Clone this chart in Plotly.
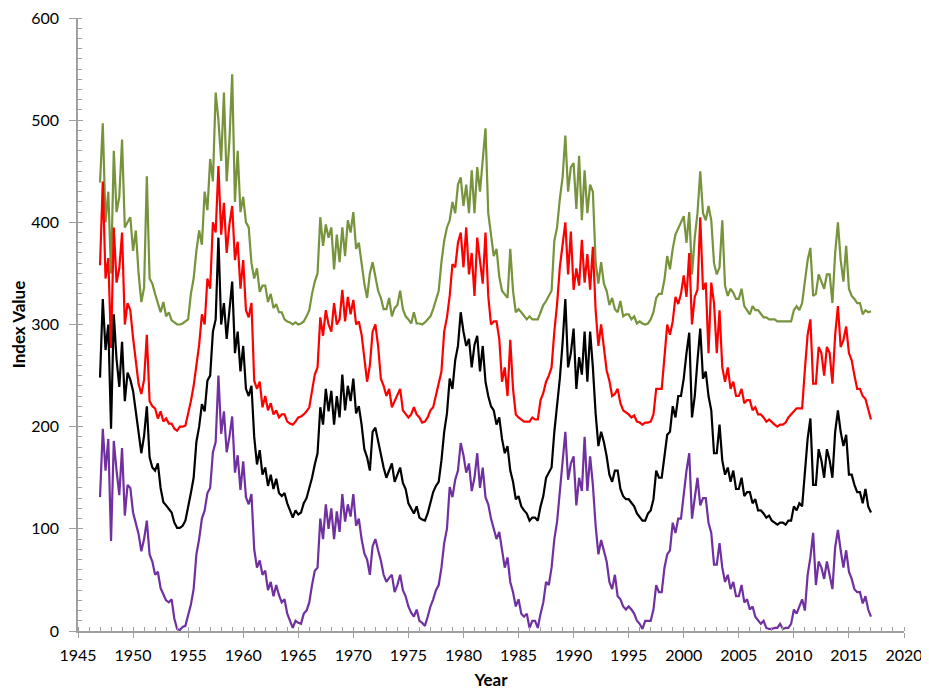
import numpy as np
import plotly.graph_objects as go

# quarterly samples, 1947.00 .. 2017.00
start_year = 1947.0
step = 0.25

purple = [
    131, 198, 157, 188,  88, 186, 157, 133, 179, 113, 143, 140, 116, 106, 95, 78,
    90, 108, 75, 68,  55, 58, 42, 36,  30, 28, 31, 12,  2, 1, 4, 5,
    15, 26, 41, 75,  90, 110, 118, 135,  140, 175, 185, 250,  193, 215, 175, 190,
    210, 155, 172, 138,  166, 131, 124, 134,  80, 62, 69, 55,  59, 40, 48, 34,
    45, 35, 28, 31,  17, 10, 3, 10,  8, 7, 17, 20,  28, 45, 59, 62,
    110, 90, 124, 100,  120, 90, 117, 97,  134, 107, 124, 112,  134, 103, 110, 90,
    76, 70, 55, 83,  90, 79, 69, 55,  48, 52, 55, 38,  45, 55, 40, 34,
    24, 18, 14, 21,  10, 8, 5, 14,  24, 31, 40, 45,  62, 86, 100, 141,
    131, 148, 157, 184,  172, 155, 164, 137,  150, 174, 140, 160,  131, 124, 110, 100,
    90, 97, 79, 62,  72, 48, 38, 24,  31, 17, 14, 17,  3, 10, 10, 3,
    17, 28, 48, 45,  62, 90, 107, 138,  169, 195, 148, 164,  171, 123, 150, 137,
    190, 137, 171, 143,  103, 75, 89, 79,  68, 48, 41, 55,  34, 31, 24, 21,
    24, 21, 17, 10,  7, 2, 10, 10,  10, 21, 45, 38,  38, 62, 75, 79,
    106, 96, 110, 110,  137, 157, 174, 110,  130, 150, 123, 130,  130, 106, 96, 65,
    65, 86, 62, 48,  55, 41, 48, 34,  34, 45, 28, 31,  21, 24, 14, 10,
    7, 10, 3, 2,  2, 3, 3, 7,  2, 3, 3, 7,  21, 17, 24, 31,
    20, 55, 72, 96,  45, 68, 62, 51,  68, 55, 41, 82,  99, 79, 62, 79,
    58, 51, 41, 38,  38, 27, 34, 21,  14,
]

black = [
    248, 325, 275, 300,  198, 310, 266, 239,  283, 225, 253, 246,  235, 215, 191, 174,
    191, 220, 170, 160,  157, 164, 140, 126,  123, 120, 116, 106,  101, 101, 103, 108,
    120, 135, 150, 185,  200, 222, 215, 245,  250, 293, 305, 385,  300, 321, 286, 318,
    342, 272, 293, 254,  279, 237, 230, 240,  190, 163, 177, 153,  160, 142, 153, 139,
    149, 135, 132, 135,  125, 118, 111, 118,  114, 116, 125, 130,  139, 150, 163, 174,
    219, 202, 237, 215,  235, 202, 230, 209,  251, 216, 240, 225,  247, 213, 220, 202,
    178, 170, 157, 195,  199, 185, 174, 160,  150, 158, 164, 146,  153, 160, 145, 139,
    125, 120, 115, 122,  111, 109, 108, 115,  125, 136, 142, 146,  167, 195, 213, 247,
    237, 265, 279, 312,  293, 279, 286, 258,  280, 289, 254, 279,  244, 230, 220, 216,
    202, 209, 188, 174,  181, 157, 146, 129,  132, 122, 118, 115,  108, 111, 111, 108,
    122, 132, 150, 155,  160, 195, 220, 247,  282, 325, 258, 272,  296, 237, 268, 251,
    293, 244, 293, 258,  213, 181, 195, 185,  171, 153, 146, 157,  157, 139, 132, 129,
    129, 125, 122, 115,  111, 108, 108, 115,  118, 129, 157, 150,  150, 171, 192, 195,
    220, 209, 230, 230,  247, 272, 292, 209,  230, 265, 296, 247,  254, 230, 216, 174,
    174, 202, 167, 153,  160, 146, 157, 139,  139, 150, 132, 136,  136, 125, 129, 118,
    118, 115, 111, 113,  108, 106, 104, 106,  106, 104, 108, 108,  122, 118, 125, 122,
    160, 188, 208, 143,  143, 178, 167, 150,  178, 167, 150, 195,  216, 195, 181, 192,
    153, 153, 143, 136,  136, 125, 139, 122,  116,
]

red = [
    358, 440, 345, 365,  277, 395, 341, 355,  390, 300, 321, 314,  287, 263, 242, 232,
    246, 290, 225, 220,  218, 208, 215, 205,  208, 203, 203, 198,  196, 200, 200, 201,
    212, 225, 240, 263,  280, 310, 300, 345,  335, 400, 390, 455,  388, 419, 370, 398,
    416, 363, 381, 335,  363, 314, 307, 321,  245, 237, 244, 219,  230, 216, 223, 212,
    216, 209, 212, 212,  205, 203, 202, 205,  209, 210, 212, 215,  219, 235, 251, 258,
    307, 289, 314, 300,  293, 321, 300, 305,  334, 303, 327, 310,  324, 300, 303, 290,
    265, 244, 260, 293,  300, 279, 247, 240,  230, 237, 219, 225,  230, 237, 216, 212,
    209, 212, 219, 212,  209, 204, 205, 209,  216, 219, 230, 240,  254, 293, 307, 328,
    359, 356, 380, 390,  356, 395, 349, 370,  328, 385, 363, 340,  390, 328, 300, 303,
    303, 286, 244, 258,  230, 285, 237, 212,  209, 207, 205, 205,  205, 209, 207, 207,
    226, 233, 244, 250,  258, 293, 320, 356,  377, 400, 349, 391,  334, 355, 338, 383,
    341, 369, 334, 376,  314, 279, 300, 279,  255, 245, 230, 232,  237, 223, 216, 214,
    212, 209, 211, 205,  204, 202, 204, 204,  205, 212, 237, 237,  237, 268, 300, 290,
    303, 327, 320, 330,  348, 327, 370, 300,  327, 334, 405, 334,  341, 272, 341, 321,
    272, 314, 258, 244,  258, 237, 244, 230,  230, 237, 223, 226,  226, 216, 219, 212,
    212, 209, 205, 207,  204, 202, 200, 202,  202, 204, 209, 212,  216, 218, 218, 218,
    256, 290, 305, 242,  242, 278, 272, 250,  278, 272, 242, 290,  318, 278, 285, 298,
    272, 265, 250, 237,  237, 230, 227, 218,  207,
]

green = [
    439, 497, 400, 430,  350, 470, 410, 425,  481, 395, 400, 405,  372, 392, 350, 322,
    336, 445, 345, 340,  330, 322, 312, 322,  308, 312, 304, 302,  300, 300, 301, 303,
    305, 330, 345, 372,  392, 378, 430, 412,  462, 440, 527, 500,  460, 527, 440, 480,
    545, 420, 470, 410,  425, 400, 395, 360,  345, 355, 332, 338,  338, 322, 330, 316,
    320, 312, 312, 305,  303, 302, 300, 302,  300, 301, 303, 308,  314, 330, 342, 350,
    405, 377, 398, 385,  395, 354, 388, 361,  395, 367, 402, 390,  410, 374, 380, 360,
    340, 326, 350, 361,  347, 333, 326, 315,  315, 326, 308, 316,  319, 333, 315, 308,
    305, 301, 312, 301,  301, 300, 302, 305,  308, 315, 325, 333,  361, 382, 395, 402,
    420, 409, 437, 444,  416, 437, 409, 451,  409, 454, 430, 460,  492, 409, 388, 367,
    374, 347, 333, 330,  326, 374, 333, 312,  315, 312, 308, 305,  308, 305, 305, 305,
    312, 319, 323, 328,  333, 382, 395, 423,  444, 485, 430, 454,  458, 413, 465, 402,
    451, 409, 437, 430,  361, 340, 361, 340,  333, 319, 326, 315,  312, 323, 308, 310,
    310, 305, 308, 301,  303, 301, 300, 301,  305, 312, 326, 330,  330, 344, 367, 354,
    374, 388, 395, 400,  406, 380, 410, 349,  385, 409, 450, 409,  402, 416, 402, 360,
    349, 356, 402, 338,  328, 335, 331, 325,  325, 335, 318, 314,  310, 318, 314, 314,
    310, 307, 307, 305,  305, 305, 303, 303,  303, 303, 303, 303,  314, 318, 314, 321,
    342, 363, 375, 328,  330, 349, 342, 335,  349, 349, 321, 370,  400, 363, 342, 377,
    335, 328, 325, 321,  321, 310, 314, 312,  313,
]

years = start_year + step * np.arange(len(purple))

series = [
    ("Series 4", green, "#77933C"),
    ("Series 3", red, "#FF0000"),
    ("Series 2", black, "#000000"),
    ("Series 1", purple, "#7030A0"),
]

fig = go.Figure()
for name, vals, col in series:
    fig.add_trace(go.Scatter(x=years, y=vals, mode="lines", name=name,
                             line=dict(color=col, width=2.2)))

axis_col = "#a0a0a0"
font_fam = "Lato, 'Open Sans', sans-serif"

fig.update_layout(
    width=929, height=691,
    margin=dict(l=70, r=33, t=10, b=68, autoexpand=False),
    paper_bgcolor="white", plot_bgcolor="white",
    showlegend=False,
    font=dict(family=font_fam, size=16, color="#000000"),
    xaxis=dict(
        range=[1945, 2020], tickmode="linear", tick0=1945, dtick=5,
        showgrid=False, zeroline=False, showline=True, linecolor=axis_col, linewidth=1.5,
        ticks="outside", ticklen=5, tickcolor=axis_col, tickwidth=1.3,
        minor=dict(ticks="inside", ticklen=4, dtick=1, tickcolor=axis_col, tickwidth=1, showgrid=False),
        tickfont=dict(size=16), ticklabelstandoff=4, ticklabeloverflow="allow",
        title=dict(text="<b>Year</b>", font=dict(size=17), standoff=11),
    ),
    yaxis=dict(
        range=[0, 600], tickmode="linear", tick0=0, dtick=100,
        showgrid=False, zeroline=False, showline=True, linecolor=axis_col, linewidth=1.5,
        ticks="outside", ticklen=7, tickcolor=axis_col, tickwidth=1.3,
        minor=dict(ticks="inside", ticklen=4, dtick=10, tickcolor=axis_col, tickwidth=1, showgrid=False),
        tickfont=dict(size=16), ticklabelstandoff=7, ticklabeloverflow="allow",
        title=dict(text="<b>Index Value</b>", font=dict(size=17), standoff=6),
    ),
    xaxis2=dict(
        range=[1945, 2020], tickmode="linear", tick0=1945, dtick=5, overlaying="x",
        anchor="y", side="bottom", showgrid=False, zeroline=False, showline=False,
        ticks="inside", ticklen=4, tickcolor=axis_col, tickwidth=1.3, showticklabels=False,
    ),
    yaxis2=dict(
        range=[0, 600], tickmode="linear", tick0=0, dtick=100, overlaying="y",
        anchor="x", side="left", showgrid=False, zeroline=False, showline=False,
        ticks="inside", ticklen=5, tickcolor=axis_col, tickwidth=1.3, showticklabels=False,
    ),
)
# invisible trace to activate the crossing-tick overlay axes
fig.add_trace(go.Scatter(x=[1945], y=[0], xaxis="x2", yaxis="y2", mode="markers",
                         marker=dict(opacity=0), hoverinfo="skip", showlegend=False))

fig.write_html("out.html")
